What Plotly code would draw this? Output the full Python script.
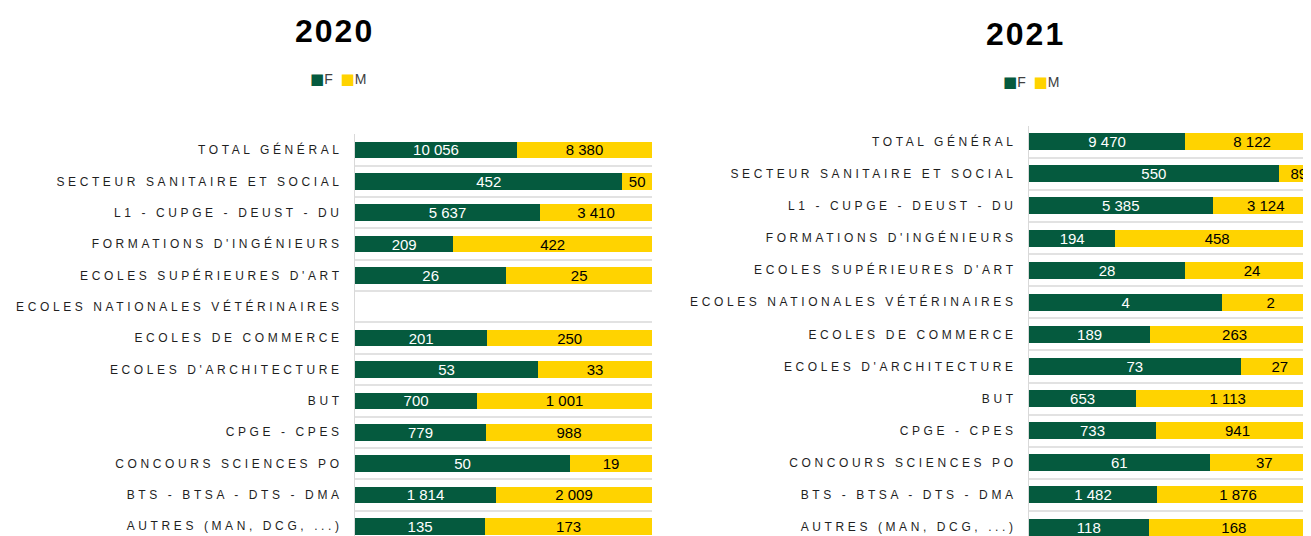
import plotly.graph_objects as go

categories = [
    "TOTAL GÉNÉRAL",
    "SECTEUR SANITAIRE ET SOCIAL",
    "L1 - CUPGE - DEUST - DU",
    "FORMATIONS D'INGÉNIEURS",
    "ECOLES SUPÉRIEURES D'ART",
    "ECOLES NATIONALES VÉTÉRINAIRES",
    "ECOLES DE COMMERCE",
    "ECOLES D'ARCHITECTURE",
    "BUT",
    "CPGE - CPES",
    "CONCOURS SCIENCES PO",
    "BTS - BTSA - DTS - DMA",
    "AUTRES (MAN, DCG, ...)",
]
f_2020 = [10056, 452, 5637, 209, 26, None, 201, 53, 700, 779, 50, 1814, 135]
m_2020 = [8380, 50, 3410, 422, 25, None, 250, 33, 1001, 988, 19, 2009, 173]
f_2021 = [9470, 550, 5385, 194, 28, 4, 189, 73, 653, 733, 61, 1482, 118]
m_2021 = [8122, 89, 3124, 458, 24, 2, 263, 27, 1113, 941, 37, 1876, 168]
series_names = ["F", "M"]
titles = ["2020", "2021"]

GREEN = "#055A3E"
YELLOW = "#FFD300"
# The page body has an 8px margin; the figure is sized so it ends at the window edges.
OFF = 8
W, H = 1311 - OFF, 536 - OFF


def px_x(x):
    return (x - OFF) / W


def px_y(y):
    return 1 - (y - OFF) / H


def fmt(values):
    return ["" if v is None else f"{v:,}".replace(",", " ") for v in values]


def spaced(label):
    return f'<span style="letter-spacing:3.6px">{label}</span>'


BAR_FONT = "Liberation Sans Narrow, Arial Narrow, Liberation Sans, Arial, sans-serif"

fig = go.Figure()
for (fv, mv, xa, ya) in [(f_2020, m_2020, "x", "y"), (f_2021, m_2021, "x2", "y2")]:
    for name, vals, color, tcolor in [
        (series_names[0], fv, GREEN, "white"),
        (series_names[1], mv, YELLOW, "black"),
    ]:
        fig.add_trace(go.Bar(
            y=categories, x=vals, orientation="h", name=name,
            marker=dict(color=color, line=dict(width=0)),
            text=fmt(vals), textposition="inside", insidetextanchor="middle",
            textangle=0, constraintext="none",
            textfont=dict(family=BAR_FONT, size=15, color=tcolor),
            xaxis=xa, yaxis=ya, showlegend=False, hoverinfo="skip",
        ))

ydef = dict(
    type="category", tickmode="array", tickvals=categories,
    ticktext=[spaced(c) for c in categories],
    tickson="boundaries", showgrid=True, gridcolor="#e2e2e2", gridwidth=2,
    showline=True, linecolor="#d9d9d9", linewidth=1, ticks="", ticklen=0,
    ticklabelstandoff=9, zeroline=False,
    tickfont=dict(family="Liberation Sans, Arial, sans-serif", size=12, color="#1f1f1f"),
)
xdef = dict(showticklabels=False, showgrid=False, zeroline=False, showline=False, ticks="")

fig.update_layout(
    width=W, height=H, margin=dict(l=0, r=0, t=0, b=0),
    paper_bgcolor="white", plot_bgcolor="white",
    barmode="stack", barnorm="fraction", bargap=0.47,
    xaxis=dict(domain=[px_x(355), px_x(652)], range=[0, 1], **xdef),
    yaxis=dict(domain=[0, px_y(134.3)], range=[12.31, -0.5], anchor="x", **ydef),
    xaxis2=dict(domain=[px_x(1029), 1], range=[0, 282 / 290], anchor="y2", **xdef),
    yaxis2=dict(domain=[0, px_y(125.7)], range=[12.28, -0.5], anchor="x2", **ydef),
)

SQ = 'font-family:DejaVu Sans;font-size:15px'
legend_text = (f'<span style="color:{GREEN};{SQ}">■</span>{series_names[0]}\u00a0\u00a0'
               f'<span style="color:{YELLOW};{SQ}">■</span>{series_names[1]}')
for title, tx, ty, lx, ly in [(titles[0], 334, 31, 338, 79), (titles[1], 1026, 34, 1031, 82)]:
    fig.add_annotation(
        text=f'<b><span style="letter-spacing:2px">{title}</span></b>',
        x=px_x(tx), y=px_y(ty), xref="paper", yref="paper",
        xanchor="center", yanchor="middle", showarrow=False,
        font=dict(family="Liberation Sans, Arial, sans-serif", size=32, color="black"),
    )
    fig.add_annotation(
        text=legend_text, x=px_x(lx), y=px_y(ly), xref="paper", yref="paper",
        xanchor="center", yanchor="middle", showarrow=False,
        font=dict(family="Liberation Sans, Arial, sans-serif", size=14, color="#404040"),
    )

fig.write_html("out.html")
